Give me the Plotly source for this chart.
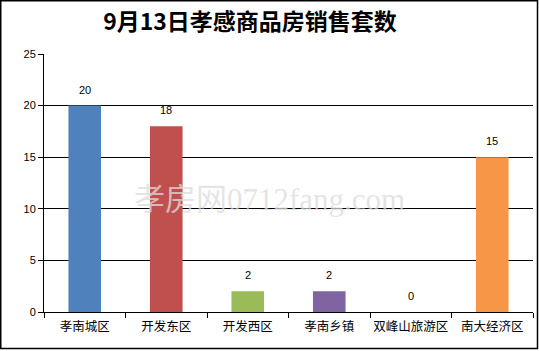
import plotly.graph_objects as go

categories = ["孝南城区", "开发东区", "开发西区", "孝南乡镇", "双峰山旅游区", "南大经济区"]
values = [20, 18, 2, 2, 0, 15]
colors = ["#4F81BD", "#C0504D", "#9BBB59", "#8064A2", "#4BACC6", "#F79646"]
y_ticks = [0, 5, 10, 15, 20, 25]
title_text = "9月13日孝感商品房销售套数"

W, H = 539, 351
L, R, T, B = 44, 6, 54, 39
pw, ph = W - L - R, H - T - B

fig = go.Figure()
fig.add_trace(go.Bar(
    x=categories, y=values,
    marker=dict(color=colors, line=dict(width=0)),
    cliponaxis=False,
))

for c, v in zip(categories, values):
    fig.add_annotation(x=c, y=v, text=str(v), showarrow=False, yanchor="bottom", yshift=8,
                       font=dict(family="Liberation Sans, Arial", size=11, color="#000000"))

fig.update_layout(
    width=W, height=H,
    margin=dict(l=L, r=R, t=T, b=B, pad=0, autoexpand=False),
    paper_bgcolor="white", plot_bgcolor="white",
    bargap=0.6, showlegend=False,
    title=dict(text="<b>" + title_text + "</b>", x=(250 - L) / pw, xref="paper", xanchor="center",
               y=1 - 22 / H, yanchor="middle",
               font=dict(family="Noto Sans CJK SC", size=23, color="#000000")),
    font=dict(family="Noto Sans CJK SC", size=11, color="#000000"),
)
fig.update_xaxes(
    showline=True, linecolor="#000000", linewidth=1,
    ticks="outside", tickson="boundaries", ticklen=5, tickcolor="#000000",
    tickfont=dict(family="Noto Sans CJK SC", size=12.5, color="#000000"),
    tickangle=0, automargin=False,
    ticklabelstandoff=3,
    showgrid=False,
)
fig.update_yaxes(
    range=[0, 25], tickvals=y_ticks,
    showline=True, linecolor="#000000", linewidth=1,
    ticks="outside", ticklen=5, tickcolor="#000000",
    showgrid=True, gridcolor="#000000", gridwidth=1,
    tickfont=dict(family="Liberation Sans, Arial", size=11, color="#000000"),
    zeroline=False, automargin=False,
)

# watermark
fig.add_annotation(text="孝房网<span style='font-family:Liberation Serif'>0712fang.com</span>",
                   xref="paper", yref="paper", x=(269 - L) / pw, y=1 - (196 - T) / ph,
                   showarrow=False, font=dict(family="Noto Sans CJK SC", size=31, color="rgba(220,220,220,0.75)"))

# outer border
fig.add_shape(type="rect", xref="paper", yref="paper",
              x0=(0.75 - L) / pw, x1=(537.5 - L) / pw,
              y0=1 - (348.5 - T) / ph, y1=1 - (0.75 - T) / ph,
              line=dict(color="#000000", width=1.5), fillcolor="rgba(0,0,0,0)", layer="above")

fig.write_html("out.html")
